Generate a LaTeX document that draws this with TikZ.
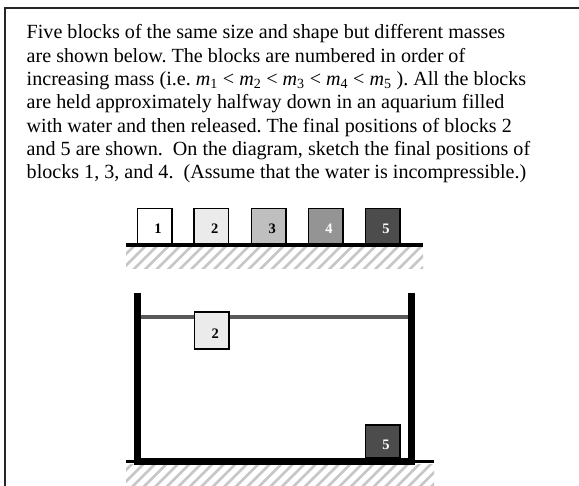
\documentclass[tikz,border=0pt]{standalone}
\usepackage{fontspec}
\setmainfont{Liberation Serif}
\frenchspacing
\begin{document}
\begin{tikzpicture}[x=1pt,y=-1pt,
  blk/.style={draw=black,line width=1.5pt,minimum width=34.5pt,minimum height=35pt,inner sep=0pt,outer sep=0pt},
  num/.style={font=\fontsize{14.5}{14.5}\selectfont\bfseries},
  ground/.style={line width=3.3pt,black},
  wall/.style={line width=7pt,black},
  hatchline/.style={line width=2.8pt,black!22}]
\useasboundingbox (0,0) rectangle (579,486);
\fill[white] (0,0) rectangle (579,486);
% frame
\draw[line width=2pt,black!85] (5,486) -- (5,8) -- (579,8);
% text
\node[anchor=north west,align=left,inner sep=0pt,font=\fontsize{20.1}{23.3}\selectfont] (txt) at (26.5,24.5)
{Five blocks of the same size and shape but different masses\\
are shown below. The blocks are numbered in order of\\
increasing mass (i.e. \textit{m}\textsubscript{1} {<} \textit{m}\textsubscript{2} {<} \textit{m}\textsubscript{3} {<} \textit{m}\textsubscript{4} {<} \textit{m}\textsubscript{5} ). All the blocks\\
are held approximately halfway down in an aquarium filled\\
with water and then released. The final positions of blocks 2\\
and 5 are shown.\ \ On the diagram, sketch the final positions of\\
blocks 1, 3, and 4.\ \ (Assume that the water is incompressible.)};
% top hatch
\begin{scope}
\clip (126,246.5) rectangle (423,269);
\foreach \i in {0,...,30} {\draw[hatchline] (100+11.5*\i,280) -- (140+11.5*\i,240);}
\end{scope}
\coordinate (g1a) at (126,245);
\coordinate (g1b) at (422.5,245);
\draw[ground] (g1a) -- (g1b);
% top blocks
\node[blk,fill=white] (b1) at (154.5,226) {};
\node[blk,fill=black!8] (b2) at (211.2,226) {};
\node[blk,fill=black!25] (b3) at (268.8,226) {};
\node[blk,fill=black!42] (b4) at (325.5,226) {};
\node[blk,fill=black!70] (b5) at (382.6,226) {};
\node[num] (n1) at ([shift={(3.5,3)}]b1.center) {1};
\node[num] (n2) at ([shift={(3.5,3)}]b2.center) {2};
\node[num] (n3) at ([shift={(3.5,3)}]b3.center) {3};
\node[num,white] (n4) at ([shift={(3.5,3)}]b4.center) {4};
\node[num,white] (n5) at ([shift={(3.5,3)}]b5.center) {5};
% bottom hatch
\begin{scope}
\clip (126,465) rectangle (434,486);
\foreach \i in {0,...,32} {\draw[hatchline] (100+11.5*\i,496) -- (140+11.5*\i,456);}
\end{scope}
\coordinate (g2a) at (126,461.5);
\coordinate (g2b) at (434,461.5);
\draw[ground] (g2a) -- (g2b);
% aquarium
\coordinate (wlt) at (137.5,292.7);
\coordinate (wlb) at (137.5,465);
\coordinate (wrt) at (411,292.7);
\coordinate (wrb) at (411,465);
\coordinate (fl) at (137.5,461.3);
\coordinate (fr) at (411,461.3);
\coordinate (wa) at (138,317);
\coordinate (wb) at (410.5,317);
\draw[line width=3.3pt,black!65] (wa) -- (wb);
\draw[line width=6.5pt] (wlt) -- (wlb);
\draw[wall] (wrt) -- (wrb);
\draw[wall] (fl) -- (fr);
% blocks in aquarium
\node[blk,fill=black!8,minimum height=37pt] (a2) at (211.7,330.3) {};
\node[num] (m2) at ([shift={(3.5,3)}]a2.center) {2};
\node[blk,fill=black!70,minimum height=33pt] (a5) at (382.5,441.5) {};
\node[num,white] (m5) at ([shift={(3.5,3)}]a5.center) {5};
\end{tikzpicture}
\end{document}
